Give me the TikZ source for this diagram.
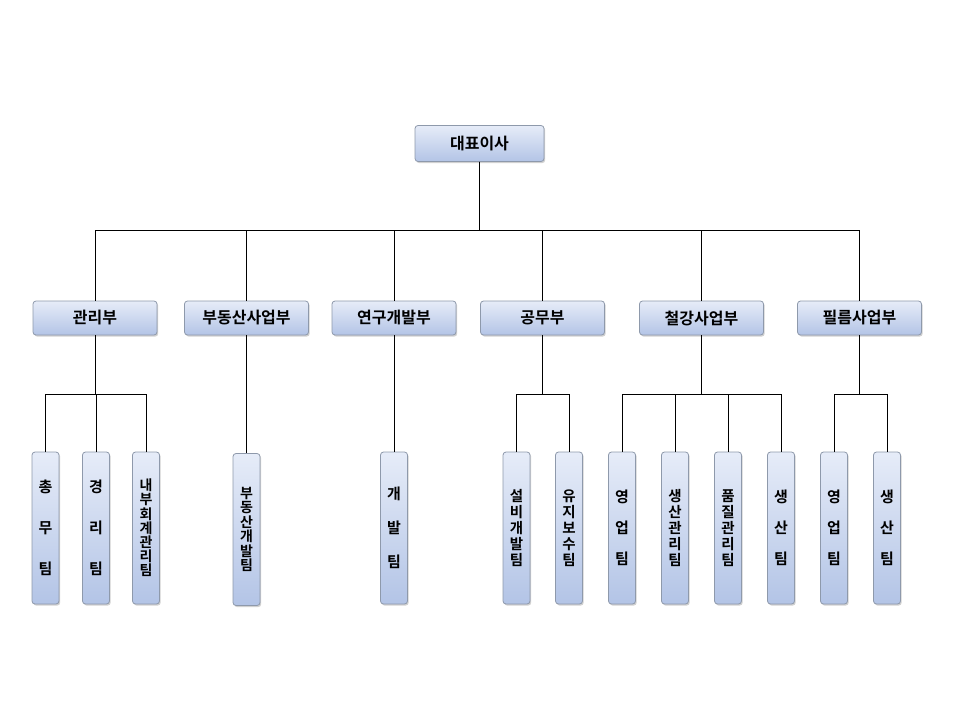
\documentclass[tikz,border=0pt]{standalone}
\usepackage{fontspec}
\newfontfamily\kr{Noto Sans CJK KR}[BoldFont={Noto Sans CJK KR Bold}]
\usepackage{tikz}
\usetikzlibrary{shadows}
\definecolor{boxtop}{HTML}{E6ECF8}
\definecolor{boxbottom}{HTML}{B3C4E6}
\definecolor{boxline}{HTML}{8E99AB}

\begin{document}
\begin{tikzpicture}
    [   x = 1pt, y = -1pt
    ,   box/.style =
        {   draw = boxline
        ,   line width = 0.8pt
        ,   rounded corners = 3pt
        ,   top color = boxtop
        ,   bottom color = boxbottom
        ,   drop shadow = {shadow xshift = 1.2pt, shadow yshift = -1.6pt, fill = black!40, opacity = .45}
        ,   inner sep = 0pt
        ,   align = center
        }
    ,   head/.style =
        {   box
        ,   minimum width = 124pt
        ,   minimum height = 34pt
        ,   font = \kr\bfseries\fontsize{16}{16}\selectfont
        }
    ,   team/.style 2 args =
        {   box
        ,   minimum width = 27pt
        ,   minimum height = 152pt
        ,   font = \kr\bfseries\fontsize{#1}{#2}\selectfont
        }
    ,   link/.style = {draw, line width = 0.8pt}
    ]
    \useasboundingbox (0,0) rectangle (960,720);
    % top
    \node[head, minimum width = 129pt, minimum height = 36pt] (ceo) at (479.5,143.5) {대표이사};
    \coordinate (bus) at (479.5,230);
    % departments
    \node[head] (mgmt)   at (95,318)    {관리부};
    \node[head] (realty) at (246.5,318) {부동산사업부};
    \node[head] (rnd)    at (394,318)   {연구개발부};
    \node[head] (works)  at (542.5,318) {공무부};
    \node[head] (steel)  at (701.5,318) {철강사업부};
    \node[head] (film)   at (859.5,318) {필름사업부};
    % teams
    \node[team={15}{41}]   (general)   at (45.5,528)  {총\\무\\팀};
    \node[team={15}{41}]   (account)   at (96,528)    {경\\리\\팀};
    \node[team={14}{14.2}] (audit)     at (146,528)   {내\\부\\회\\계\\관\\리\\팀};
    \node[team={14}{14.4}] (realtydev) at (246.5,529.5) {부\\동\\산\\개\\발\\팀};
    \node[team={15}{34}]   (dev)       at (394,528)   {개\\발\\팀};
    \node[team={14.5}{16}] (facility)  at (516.5,528) {설\\비\\개\\발\\팀};
    \node[team={14.5}{16}] (upkeep)    at (569,528)   {유\\지\\보\\수\\팀};
    \node[team={15}{31}]   (sales)     at (622,528)   {영\\업\\팀};
    \node[team={14.5}{16}] (prodctl)   at (675,528)   {생\\산\\관\\리\\팀};
    \node[team={14.5}{16}] (quality)   at (728,528)   {품\\질\\관\\리\\팀};
    \node[team={15}{31}]   (prod)      at (781,528)   {생\\산\\팀};
    \node[team={15}{31}]   (filmsales) at (834,528)   {영\\업\\팀};
    \node[team={15}{31}]   (filmprod)  at (887,528)   {생\\산\\팀};
    % connectors
    \foreach \d in {mgmt, realty, rnd, works, steel, film}
        \draw[link] (ceo.south) -- (ceo.south |- bus) -| (\d.north);
    \foreach \t in {general, account, audit}
        \draw[link] (mgmt.south) -- ++(0,59) -| (\t.north);
    \draw[link] (realty) -- (realtydev);
    \draw[link] (rnd) -- (dev);
    \foreach \t in {facility, upkeep}
        \draw[link] (works.south) -- ++(0,59) -| (\t.north);
    \foreach \t in {sales, prodctl, quality, prod}
        \draw[link] (steel.south) -- ++(0,59) -| (\t.north);
    \foreach \t in {filmsales, filmprod}
        \draw[link] (film.south) -- ++(0,59) -| (\t.north);
\end{tikzpicture}
\end{document}
